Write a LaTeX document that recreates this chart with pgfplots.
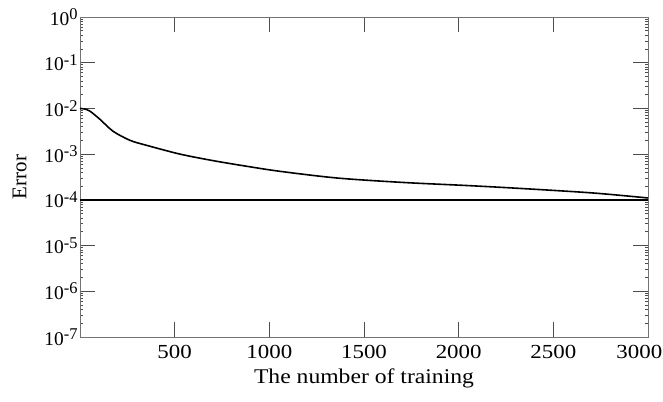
\documentclass[border=0pt]{standalone}
\usepackage{pgfplots}
\pgfplotsset{compat=1.18}
\usepackage{fontspec}
\setmainfont{Liberation Serif}

% power-of-ten label with a raised exponent
\newcommand{\tenp}[1]{10\raisebox{5.5bp}{\fontsize{16.5}{18}\selectfont #1}}

\begin{document}
\begin{tikzpicture}[font=\fontsize{19.5}{22}\selectfont]
  \begin{axis}[
    scale only axis,
    width=568bp,
    height=320bp,
    ymode=log,
    xmin=0, xmax=3000,
    ymin=1e-7, ymax=1,
    xtick={500,1000,1500,2000,2500,3000},
    xticklabels={500,1000,1500,2000,2500,{\hspace*{-15bp}3000}},
    ytick={1e-7,1e-6,1e-5,1e-4,1e-3,1e-2,1e-1,1},
    yticklabels={\tenp{-7},\tenp{-6},\tenp{-5},\tenp{-4},\tenp{-3},\tenp{-2},\tenp{-1},\tenp{0}},
    xticklabel style={font=\fontsize{20}{22}\selectfont, xscale=1.15},
    minor tick num=0,
    tick align=inside,
    major tick length=15bp,
    tick style={black!70, line width=0.8pt},
    axis line style={black!55, line width=0.9pt},
    xticklabel shift=5bp,
    yticklabel style={xshift=1bp},
    xlabel={The number of training},
    ylabel={Error},
    xlabel style={font=\fontsize{21}{24}\selectfont, xscale=1.13, yshift=-3bp},
    ylabel style={font=\fontsize{21}{24}\selectfont, yshift=11bp},
  ]
    % training error curve
    \addplot[black, line width=1.6pt, smooth] coordinates {
      (0,1.0e-2) (25,9.7e-3) (53,8.7e-3) (106,5.75e-3) (175,3.16e-3)
      (265,2.0e-3) (354,1.55e-3) (529,1.0e-3) (704,7.2e-4) (884,5.4e-4)
      (1058,4.2e-4) (1360,3.0e-4) (1709,2.4e-4) (2063,2.04e-4)
      (2365,1.74e-4) (2714,1.41e-4) (3000,1.1e-4)
    };
    % target error
    \addplot[black, line width=1.6pt] coordinates {(0,1e-4) (3000,1e-4)};
  \end{axis}
  \pgfresetboundingbox
  \path[use as bounding box] ([shift={(-80bp,-65bp)}]current axis.south west)
    rectangle ([shift={(15bp,17bp)}]current axis.north east);
\end{tikzpicture}
\end{document}
